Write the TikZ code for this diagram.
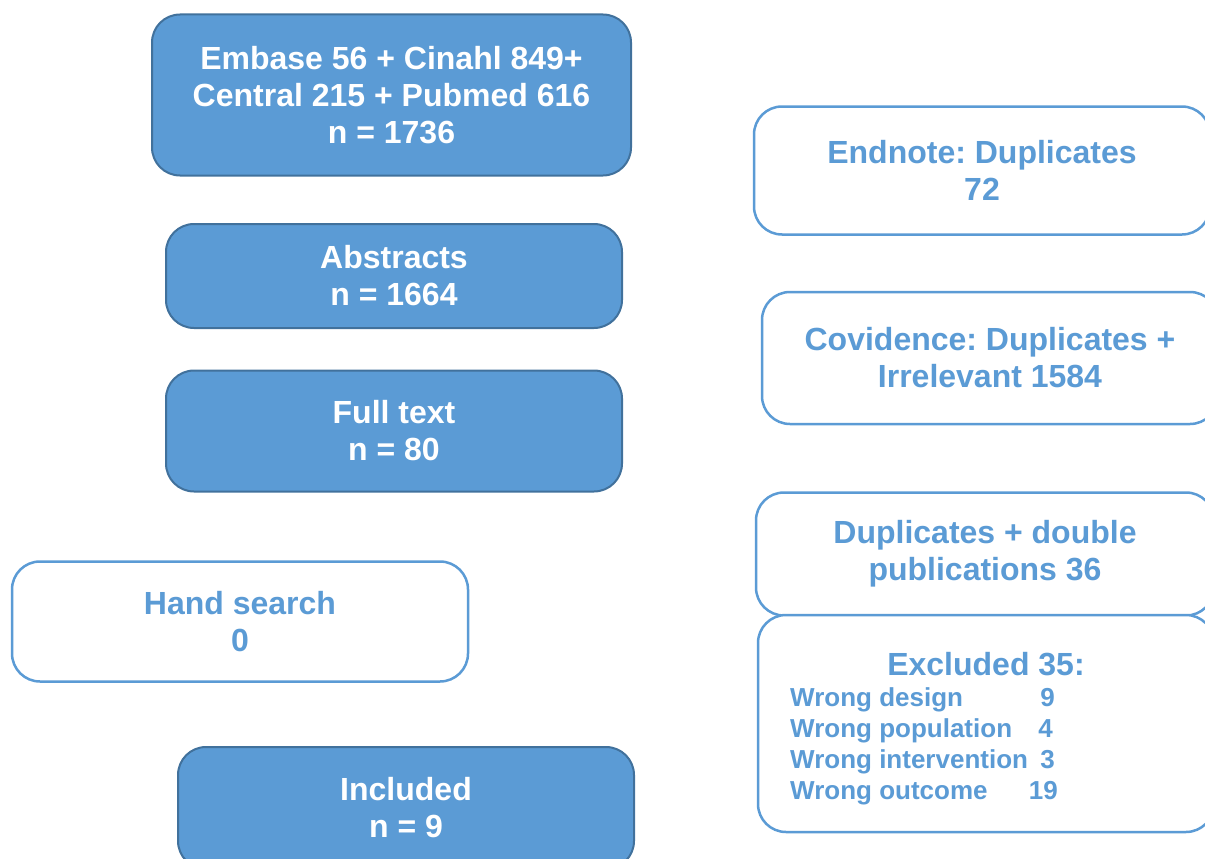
\documentclass[tikz,border=0pt]{standalone}
\usepackage{fontspec}
\setmainfont{Liberation Sans}
\frenchspacing
\definecolor{fillblue}{HTML}{5B9BD5}
\definecolor{edgeblue}{HTML}{41719C}
\begin{document}
\begin{tikzpicture}[x=1pt,y=-1pt,
  bigfont/.style={font=\bfseries\fontsize{32}{37}\selectfont\frenchspacing},
  smallfont/.style={font=\bfseries\fontsize{26}{31}\selectfont},
  filledbox/.style={draw=edgeblue, line width=2pt, fill=fillblue, rounded corners=28pt,
    text=white, bigfont, align=center, inner sep=0pt},
  outlinebox/.style={draw=fillblue, line width=2.5pt, fill=white, rounded corners=28pt,
    text=fillblue, bigfont, align=center, inner sep=0pt},
  listtext/.style={text=fillblue, smallfont, inner sep=0pt}]
\useasboundingbox (0,0) rectangle (1205,859);
\clip (0,0) rectangle (1205,859);
\node[filledbox, minimum width=479pt, minimum height=161pt] (search) at (391.5,95)
  {Embase 56 + Cinahl 849+\\Central 215 + Pubmed 616\\n = 1736};
\node[filledbox, minimum width=456pt, minimum height=104pt] (abstracts) at (394,276)
  {Abstracts\\n = 1664};
\node[filledbox, minimum width=456pt, minimum height=121pt] (fulltext) at (394,431)
  {Full text\\n = 80};
\node[filledbox, minimum width=456pt, minimum height=122pt] (included) at (406,808)
  {Included\\n = 9};
\node[outlinebox, minimum width=456pt, minimum height=128pt] (endnote) at (982,170.5)
  {Endnote: Duplicates\\72};
\node[outlinebox, minimum width=456pt, minimum height=132pt] (covidence) at (990,358)
  {Covidence: Duplicates +\\Irrelevant 1584};
\node[outlinebox, minimum width=458pt, minimum height=123pt] (dups) at (985,554)
  {Duplicates + double\\publications 36};
\node[outlinebox, minimum width=456pt, minimum height=120pt] (hand) at (240,621.5)
  {Hand search\\0};
\node[outlinebox, minimum width=456pt, minimum height=217pt] (excluded) at (986,723.5) {};
\node[text=fillblue, bigfont, inner sep=0pt] (extitle) at (986,664) {Excluded 35:};
\node[listtext, anchor=base west] (l1) at (790,706) {Wrong design};
\node[listtext, anchor=base west] (l2) at (790,737) {Wrong population};
\node[listtext, anchor=base west] (l3) at (790,768) {Wrong intervention};
\node[listtext, anchor=base west] (l4) at (790,799) {Wrong outcome};
\node[listtext, anchor=base east] (n1) at (1055,706) {9};
\node[listtext, anchor=base east] (n2) at (1053,737) {4};
\node[listtext, anchor=base east] (n3) at (1055,768) {3};
\node[listtext, anchor=base east] (n4) at (1058,799) {19};
\end{tikzpicture}
\end{document}
